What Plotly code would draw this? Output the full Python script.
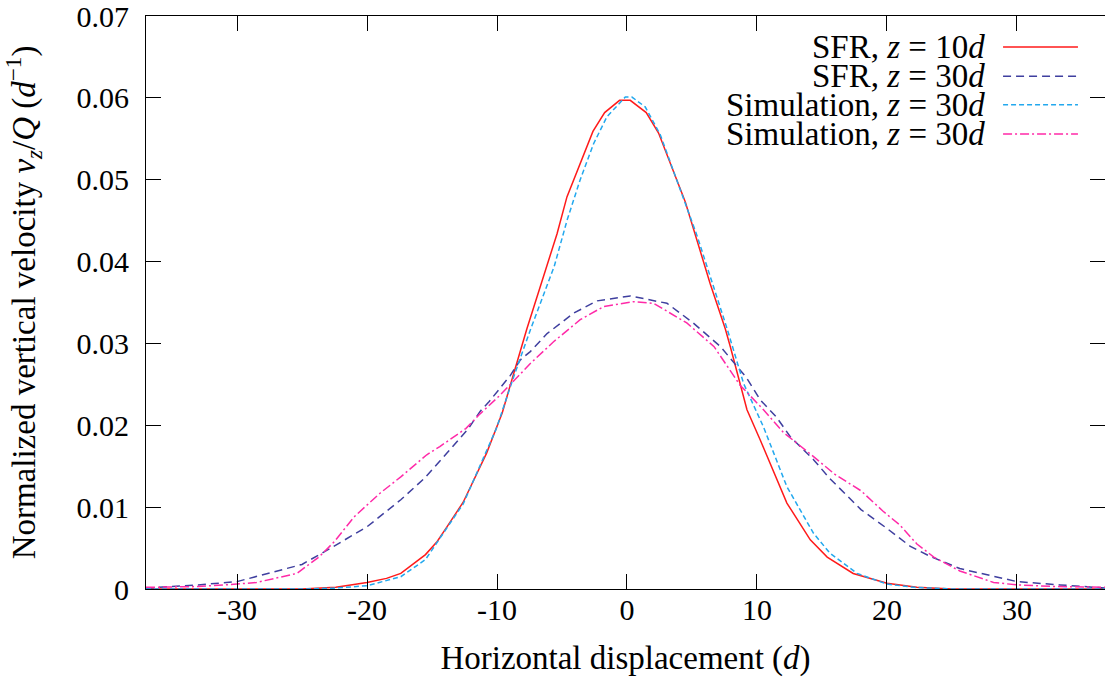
import plotly.graph_objects as go

# ---------------- data ----------------
sfr10_x = [-37, -25, -22.4, -20, -18.5, -17.4, -15.5, -14.6, -13.85, -12.6, -10.8, -10.05,
           -9.6, -8.72, -7.7, -5.38, -4.62, -2.62, -1.72, -0.57, 0.25, 1.48, 2.43, 4.48,
           5.64, 6.4, 7.56, 7.95, 9.23, 10.25, 12.3, 14.1, 15.4, 17.4, 20, 22.3, 25, 37]
sfr10_y = [0, 0, 0.0002, 0.0008, 0.0013, 0.0019, 0.0042, 0.0058, 0.0076, 0.0106, 0.0166, 0.0198,
           0.0215, 0.0263, 0.0318, 0.0434, 0.0479, 0.0559, 0.0582, 0.0597, 0.0597, 0.0582, 0.0557, 0.0473,
           0.0414, 0.0373, 0.0318, 0.0296, 0.0219, 0.0182, 0.0105, 0.0060, 0.0039, 0.0019, 0.0007, 0.0002, 0, 0]

sfr30_x = [-37, -33, -30, -27, -25, -23, -20, -17.4, -15.6, -13.85, -12.2, -11.3, -10.6, -8.97,
           -8.2, -7.44, -6.15, -4.1, -2.3, 0.25, 3.08, 5.1, 7.2, 9.2, 10.25, 11.5, 12.56, 14.35,
           15.6, 18, 20, 21.8, 23.3, 25.6, 30, 33.3, 37]
sfr30_y = [0.0001, 0.0005, 0.0009, 0.0022, 0.0030, 0.0048, 0.0076, 0.0109, 0.0135, 0.0166, 0.0196, 0.0217, 0.0229, 0.0261,
           0.0280, 0.0290, 0.0312, 0.0337, 0.0352, 0.0358, 0.0349, 0.0325, 0.0296, 0.0258, 0.0231, 0.0210, 0.0186, 0.0158,
           0.0135, 0.0097, 0.0074, 0.0052, 0.0040, 0.0025, 0.0009, 0.0005, 0.0001]

sim10_x = [-37, -25, -22.6, -20, -17.4, -15.5, -12.6, -10.05, -8.7, -7.4, -5.6, -4.6, -3.6,
           -2.57, -1.54, -0.13, 0.38, 1.4, 2.56, 5.38, 7.7, 8.97, 10.5, 12.3, 14.35, 15.6,
           17.7, 20, 22.1, 25, 37]
sim10_y = [0, 0, 0.0001, 0.0004, 0.0015, 0.0036, 0.0104, 0.0196, 0.0260, 0.0318, 0.0394, 0.0451, 0.0500,
           0.0544, 0.0577, 0.0601, 0.0601, 0.0589, 0.0555, 0.0432, 0.0318, 0.0251, 0.0198, 0.0125, 0.0068, 0.0044,
           0.0019, 0.0006, 0.0002, 0, 0]

sim30_x = [-37, -33, -30, -28.5, -25.4, -23.7, -22.5, -21, -19, -17.4, -15.4, -14.4, -12.4,
           -11.3, -9.75, -7.4, -5.65, -3.6, -1.8, 0.5, 2.05, 4.6, 6.7, 8.7, 10.5, 12.05, 14.1,
           16, 17, 18, 19.7, 21, 22.3, 23.6, 25.6, 28.2, 30, 33, 37]
sim30_y = [0.0002, 0.0003, 0.0006, 0.0008, 0.0019, 0.0039, 0.0058, 0.0088, 0.0117, 0.0137, 0.0164, 0.0174, 0.0196,
           0.0214, 0.0237, 0.0276, 0.0302, 0.0329, 0.0345, 0.0351, 0.0349, 0.0325, 0.0296, 0.0249, 0.0219, 0.0191, 0.0165,
           0.0140, 0.0130, 0.0120, 0.0095, 0.0078, 0.0055, 0.0039, 0.0022, 0.0008, 0.0005, 0.0003, 0.0002]

series_names = ["SFR, <i>z</i>\u00a0=\u00a010<i>d</i>",
                "SFR, <i>z</i>\u00a0=\u00a030<i>d</i>",
                "Simulation, <i>z</i>\u00a0=\u00a030<i>d</i>",
                "Simulation, <i>z</i>\u00a0=\u00a030<i>d</i>"]

x_tickvals = [-30, -20, -10, 0, 10, 20, 30]
x_ticktext = ["-30", "-20", "-10", "0", "10", "20", "30"]
y_tickvals = [0, 0.01, 0.02, 0.03, 0.04, 0.05, 0.06, 0.07]
y_ticktext = ["0", "0.01", "0.02", "0.03", "0.04", "0.05", "0.06", "0.07"]

# ---------------- styles ----------------
colors = ["#ff1a1a", "#3f3f9f", "#22a8ee", "#ff2aa8"]
dashes = ["solid", "8px,5px", "5px,3px", "9px,3px,2px,3px"]
FONT = "Liberation Serif, DejaVu Serif, Times New Roman, serif"
FS_TICK = 30
FS_TEXT = 33
FS_LEG = 33

fig = go.Figure()
for xs, ys, name, c, d in zip([sfr10_x, sfr30_x, sim10_x, sim30_x],
                              [sfr10_y, sfr30_y, sim10_y, sim30_y],
                              series_names, colors, dashes):
    fig.add_trace(go.Scatter(x=xs, y=ys, mode="lines", name=name,
                             line=dict(color=c, width=1.5, dash=d),
                             showlegend=False, hoverinfo="skip"))

# manual legend (text right-aligned, sample on the right, as in gnuplot)
leg_text_x = 0.877
leg_line_x0, leg_line_x1 = 0.8937, 0.9718
leg_rows_y = [0.946, 0.895, 0.845, 0.794]
for name, c, d, yy in zip(series_names, colors, dashes, leg_rows_y):
    fig.add_annotation(x=leg_text_x, y=yy, xref="paper", yref="paper", text=name,
                       showarrow=False, xanchor="right", yanchor="middle",
                       font=dict(family=FONT, size=FS_LEG, color="black"))
    fig.add_shape(type="line", xref="paper", yref="paper",
                  x0=leg_line_x0, x1=leg_line_x1, y0=yy, y1=yy,
                  line=dict(color=c, width=1.5, dash=d))

axis_common = dict(showline=True, linecolor="black", linewidth=1, mirror="allticks",
                   ticks="inside", ticklen=15, tickcolor="black", tickwidth=1,
                   showgrid=False, zeroline=False, ticklabeloverflow="allow",
                   automargin=False,
                   tickfont=dict(family=FONT, size=FS_TICK, color="black"))

fig.update_layout(
    width=1105, height=684,
    margin=dict(l=146, r=0, t=16, b=95, autoexpand=False),
    plot_bgcolor="white", paper_bgcolor="white",
    xaxis=dict(range=[-37, 36.77], tickvals=x_tickvals, ticktext=x_ticktext,
               title=dict(text="Horizontal displacement (<i>d</i>)",
                          font=dict(family=FONT, size=FS_TEXT, color="black"), standoff=20),
               ticklabelstandoff=-6, **axis_common),
    yaxis=dict(range=[0, 0.07], tickvals=y_tickvals, ticktext=y_ticktext,
               title=dict(text="Normalized vertical velocity <i>v<sub>z</sub></i>/<i>Q</i> (<i>d</i><sup>\u22121</sup>)",
                          font=dict(family=FONT, size=FS_TEXT, color="black"), standoff=48),
               ticklabelstandoff=10, **axis_common),
)

# remove the browser's default 8px page margin so the figure sits at the top-left corner
fig.write_html("out.html", config={"displayModeBar": False},
               post_script="document.body.style.margin='0';")
